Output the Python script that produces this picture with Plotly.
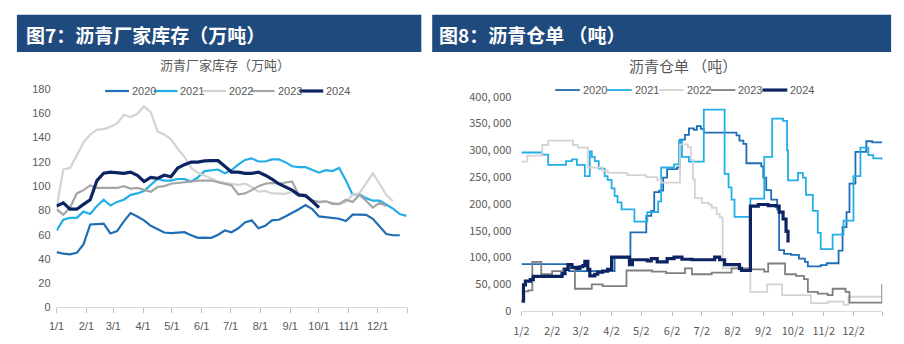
import pandas as pd
import plotly.graph_objects as go

W, H = 904, 344


def fx(px):
    return px / W


def fy(py):
    return 1 - py / H


NARROW = "Liberation Sans Narrow, Arial Narrow, Liberation Sans, sans-serif"
CJK = "Noto Sans CJK SC, sans-serif"
TXT = "#595959"
HEADER = "#1F4A7E"

years = ["2020", "2021", "2022", "2023", "2024"]

# ---------------- 沥青厂家库存（万吨）: weekly, from Jan 1 ----------------
inv_2020 = [45.6, 44.3, 43.8, 45, 52, 68.4, 68.7, 69, 61, 63, 71, 77.8, 75, 71.8, 67.3, 64.7,
            61.8, 61.3, 61.8, 62, 59.5, 57.4, 57.6, 57.4, 60, 63.4, 62, 65.3, 70, 71.8, 65.3,
            67.3, 71.8, 72.3, 75, 77.8, 81, 84.4, 81, 75, 74.4, 74.2, 73.1, 71.3, 76.5, 76.5,
            76.3, 73.1, 66.6, 60.5, 59.5, 59.5]
inv_2021 = [63.2, 72.3, 73.9, 73.9, 79, 77, 83.6, 88.8, 84, 87, 88.8, 92.8, 94, 96, 101, 105.9,
            104.6, 104.6, 105.9, 105.9, 103.8, 107.2, 112.4, 113.2, 113.7, 110.6, 113.2, 117.7,
            121.6, 122.9, 120.3, 120.3, 122.1, 122.1, 119.8, 116.4, 115.6, 115.6, 113.2, 111.1,
            113.2, 112.4, 115, 104.6, 92.8, 93.3, 90.1, 88, 88, 84.9, 81.5, 77, 75.5]
inv_2022 = [82, 113.7, 115, 125.5, 136, 142.6, 146.5, 147, 149, 151.7, 158.8, 157, 159.6, 165.6,
            161, 145, 142.6, 138.6, 130.8, 124.2, 115, 111, 108.5, 105.9, 103.8, 102.7, 101.9,
            101, 102, 99.3, 95.4, 96, 94, 93.8, 93.6, 95.4, 91.5, 91.5, 88, 86.7, 87.5, 86.2, 85,
            87, 92.8, 94, 102.7, 110.6, 102, 92.8, 87.5]
inv_2023 = [81, 76.5, 82.3, 94, 96.7, 100.6, 98.5, 98.5, 98, 98.5, 100, 98, 98.5, 96.7, 95.4,
            99.3, 100, 102, 102.7, 103.2, 103.8, 104.6, 104.6, 104.6, 103.2, 102, 100.6, 93.3, 94,
            96.7, 100, 102, 102.7, 102, 102.7, 103.8, 92.8, 91.5, 88, 87, 87.5, 85.4, 85.4, 88.8,
            87, 92.8, 88, 82.3, 86.2, 83.6]
inv_2024 = [83.6, 86.2, 81, 81, 85, 88.8, 104.6, 110.6, 111.6, 111.1, 110.6, 111.6, 109, 103.8,
            107.2, 106.4, 109, 107.7, 115, 117.7, 119.8, 119.8, 120.8, 121, 121, 116.4, 111.6,
            111.6, 110.6, 110.6, 111.6, 109, 105.9, 102, 99.3, 96.7, 92.8, 92.2, 87.5, 82.3]
inv_series = [inv_2020, inv_2021, inv_2022, inv_2023, inv_2024]

inv_tickvals = ["2021-%02d-01" % m for m in range(1, 13)] + ["2022-01-01"]
inv_ticktext = ["%d/1" % m for m in range(1, 13)] + [""]
inv_yticks = list(range(0, 181, 20))

# ---------------- 沥青仓单（吨）: daily levels, listed at change dates ----------------
wr2020_d = ["01-02", "02-19", "04-05", "04-21", "05-07", "05-12", "05-15", "05-20", "05-24", "05-28",
            "06-07", "06-10", "06-15", "06-19", "06-24", "06-27", "07-01", "07-04", "08-06", "08-09",
            "08-13", "08-16", "08-31", "09-02", "09-05", "09-10", "09-16", "09-18", "09-23", "09-30",
            "10-08", "10-14", "10-17", "10-30", "11-05", "11-17", "11-21", "11-25", "11-28", "12-04",
            "12-15", "12-21", "12-31"]
wr2020_v = [88000, 75000, 100000, 147000, 178000, 187000, 222000, 225000, 249000, 265000,
            268000, 320000, 329000, 341000, 338000, 345000, 340000, 333000, 328000, 318000,
            312000, 276000, 270000, 249000, 226000, 208000, 190000, 114000, 107000, 105000,
            98000, 92000, 83500, 86000, 89500, 113000, 157000, 185000, 238000, 297000,
            317000, 315000, 315000]
wr2021_d = ["01-02", "01-23", "01-29", "02-16", "02-22", "02-27", "03-06", "03-11", "03-13", "03-16",
            "03-20", "03-26", "03-29", "04-02", "04-05", "04-08", "04-12", "04-25", "05-08", "05-19",
            "05-22", "06-04", "06-09", "06-12", "06-19", "07-04", "07-25", "07-29", "08-01", "08-04",
            "08-20", "09-03", "09-11", "09-22", "09-26", "09-27", "10-07", "10-12", "10-15", "10-22",
            "10-27", "10-30", "11-11", "11-22", "12-02", "12-09", "12-17", "12-22", "12-31"]
wr2021_v = [296000, 292000, 273000, 280000, 283000, 273000, 252000, 298000, 288000, 280000,
            266000, 252000, 245000, 229000, 215000, 203000, 190000, 167000, 185000, 205000,
            268000, 274000, 318000, 288000, 279000, 376000, 256000, 231000, 208000, 176000,
            210000, 288000, 359000, 355000, 300000, 244000, 258000, 249000, 217000, 187000,
            146000, 116000, 143000, 169000, 252000, 305000, 291000, 285000, 282000]
wr2022_d = ["01-02", "01-08", "01-23", "01-29", "02-23", "02-28", "03-09", "03-24", "03-29", "04-18",
            "05-07", "05-18", "05-22", "06-10", "06-18", "06-21", "06-23", "06-25", "07-02", "07-09",
            "07-12", "07-17", "07-20", "07-23", "08-20", "09-06", "09-21", "10-20", "11-06", "11-22",
            "11-27", "12-31"]
wr2022_v = [279000, 290000, 310000, 318000, 310000, 305000, 268000, 262000, 258000, 254000,
            250000, 245000, 240000, 311000, 306000, 282000, 246000, 211000, 202000, 199000,
            193000, 181000, 175000, 80000, 36000, 50000, 30000, 15000, 18000, 12000,
            27000, 27000]
wr2023_d = ["01-02", "01-05", "01-09", "01-13", "01-22", "02-02", "02-13", "02-25", "03-13", "03-24",
            "04-17", "05-13", "05-27", "06-15", "06-22", "07-12", "08-01", "08-21", "09-03", "09-07",
            "09-24", "10-05", "10-13", "10-17", "10-27", "11-06", "11-11", "11-24", "11-28", "12-29",
            "12-31"]
wr2023_v = [19000, 37000, 39000, 92000, 69000, 75000, 80000, 42000, 50000, 47000,
            76000, 74000, 71000, 80000, 69000, 72000, 80000, 78000, 74000, 89000,
            69000, 66000, 60000, 36000, 33000, 30000, 42000, 36000, 16000, 16000,
            51000]
wr2024_d = ["01-02", "01-04", "01-06", "01-11", "01-14", "02-12", "02-15", "02-18", "02-22", "02-27",
            "03-01", "03-04", "03-06", "03-09", "03-11", "03-16", "03-19", "03-24", "03-29", "04-02",
            "04-20", "04-23", "05-08", "05-12", "05-18", "05-28", "06-04", "06-12", "06-22", "07-15",
            "07-20", "07-25", "08-09", "08-11", "08-20", "08-28", "09-07", "09-15", "09-18", "09-22",
            "09-25", "09-27"]
wr2024_v = [19000, 49000, 56000, 59000, 65000, 70000, 78000, 87000, 82000, 80000,
            83000, 85000, 93000, 78000, 66000, 69000, 73000, 75000, 78000, 101000,
            87000, 96000, 94000, 98000, 92000, 98000, 101000, 97000, 96000, 101000,
            96000, 87000, 80000, 76000, 196000, 199000, 197000, 196000, 185000, 172000,
            149000, 128000]
wr_dates = [wr2020_d, wr2021_d, wr2022_d, wr2023_d, wr2024_d]
wr_vals = [wr2020_v, wr2021_v, wr2022_v, wr2023_v, wr2024_v]

wr_tickvals = ["2020-%02d-02" % m for m in range(1, 13)] + ["2020-12-31"]
wr_ticktext = ["%d/2" % m for m in range(1, 13)] + [""]
wr_yticks = list(range(0, 400001, 50000))
wr_yticktext = ["0"] + ["{:,}".format(v).replace(",", ", ") for v in wr_yticks[1:]]

# ---------------- styles ----------------
inv_colors = ["#1F6DB5", "#22AEE6", "#D3D3D3", "#A5A5A5", "#0C2461"]
wr_colors = ["#1F6DB5", "#22AEE6", "#D3D3D3", "#7F7F7F", "#0C2461"]
inv_widths = [2.2, 2.2, 2.2, 2.2, 3.2]
wr_widths = [1.8, 1.8, 1.8, 1.8, 3.2]

fig = go.Figure()

for name, vals, col, lw in zip(years, inv_series, inv_colors, inv_widths):
    dates = pd.date_range("2021-01-01", periods=len(vals), freq="7D")
    fig.add_trace(go.Scatter(x=dates, y=vals, name=name, mode="lines",
                             line=dict(color=col, width=lw), showlegend=False,
                             xaxis="x", yaxis="y"))

for name, ds, vals, col, lw in zip(years, wr_dates, wr_vals, wr_colors, wr_widths):
    dates = ["2020-" + d for d in ds]
    fig.add_trace(go.Scatter(x=dates, y=vals, name=name, mode="lines",
                             line=dict(color=col, width=lw, shape="hv"), showlegend=False,
                             xaxis="x2", yaxis="y2"))

axis_common = dict(showgrid=False, zeroline=False, fixedrange=True)

fig.update_layout(
    width=W, height=H,
    margin=dict(l=0, r=0, t=0, b=0),
    paper_bgcolor="white", plot_bgcolor="white",
    showlegend=False,
    xaxis=dict(domain=[fx(49), fx(403)], type="date", range=["2021-01-01", "2022-01-01"],
               tickmode="array", tickvals=inv_tickvals, ticktext=inv_ticktext,
               ticks="outside", ticklen=5, tickcolor="#BFBFBF", tickwidth=1,
               ticklabelstandoff=3,
               showline=True, linecolor="#D9D9D9", linewidth=1,
               tickfont=dict(family=NARROW, size=11, color=TXT), anchor="y", **axis_common),
    yaxis=dict(domain=[fy(313), fy(84)], range=[0, 180], tickmode="array",
               tickvals=inv_yticks, ticks="", showline=False, ticklabelstandoff=5,
               tickfont=dict(family=NARROW, size=11, color=TXT), anchor="x", **axis_common),
    xaxis2=dict(domain=[fx(518), fx(882)], type="date", range=["2020-01-02", "2020-12-31"],
                tickmode="array", tickvals=wr_tickvals, ticktext=wr_ticktext,
                ticks="outside", ticklen=4, tickcolor="#BFBFBF", tickwidth=1,
                ticklabelstandoff=6,
                showline=True, linecolor="#D9D9D9", linewidth=1,
                tickfont=dict(family=CJK, size=11, color=TXT), anchor="y2", **axis_common),
    yaxis2=dict(domain=[fy(317), fy(92)], range=[0, 400000], tickmode="array",
                tickvals=wr_yticks, ticktext=wr_yticktext, ticks="", showline=False,
                ticklabelstandoff=9,
                tickfont=dict(family=CJK, size=11, color=TXT), anchor="x2", **axis_common),
)

shapes = []
annotations = []

# header bars
for x0, x1, label, tx in [(9, 417, "图7：沥青厂家库存（万吨）", 16),
                          (428, 891, "图8：沥青仓单 （吨）", 433)]:
    shapes.append(dict(type="rect", xref="paper", yref="paper",
                       x0=fx(x0), x1=fx(x1), y0=fy(45), y1=fy(6),
                       fillcolor=HEADER, line=dict(width=0), layer="below"))
    annotations.append(dict(text=label, xref="paper", yref="paper", x=fx(tx), y=fy(27),
                            xanchor="left", yanchor="middle", showarrow=False,
                            font=dict(family=CJK, size=19, color="white", weight=700)))

# chart titles
annotations.append(dict(text="沥青厂家库存（万吨）", xref="paper", yref="paper",
                        x=fx(219), y=fy(58), xanchor="center", yanchor="middle",
                        showarrow=False, font=dict(family=CJK, size=13, color=TXT)))
annotations.append(dict(text="沥青仓单 （吨）", xref="paper", yref="paper",
                        x=fx(681), y=fy(59), xanchor="center", yanchor="middle",
                        showarrow=False, font=dict(family=CJK, size=15, color=TXT)))


# legends: short line sample followed by the year
def add_legend(x_start, step, y, seg, colors, widths):
    for i, (name, col, lw) in enumerate(zip(years, colors, widths)):
        x0 = x_start + i * step
        shapes.append(dict(type="line", xref="paper", yref="paper",
                           x0=fx(x0), x1=fx(x0 + seg), y0=fy(y), y1=fy(y),
                           line=dict(color=col, width=lw)))
        annotations.append(dict(text=name, xref="paper", yref="paper",
                                x=fx(x0 + seg + 1), y=fy(y), xanchor="left", yanchor="middle",
                                showarrow=False, font=dict(family=NARROW, size=11, color=TXT)))


add_legend(98, 49, 86, 24, inv_colors, inv_widths)
add_legend(552, 52.3, 85, 25, wr_colors, wr_widths)

fig.update_layout(shapes=shapes, annotations=annotations)

fig.write_html("out.html")
